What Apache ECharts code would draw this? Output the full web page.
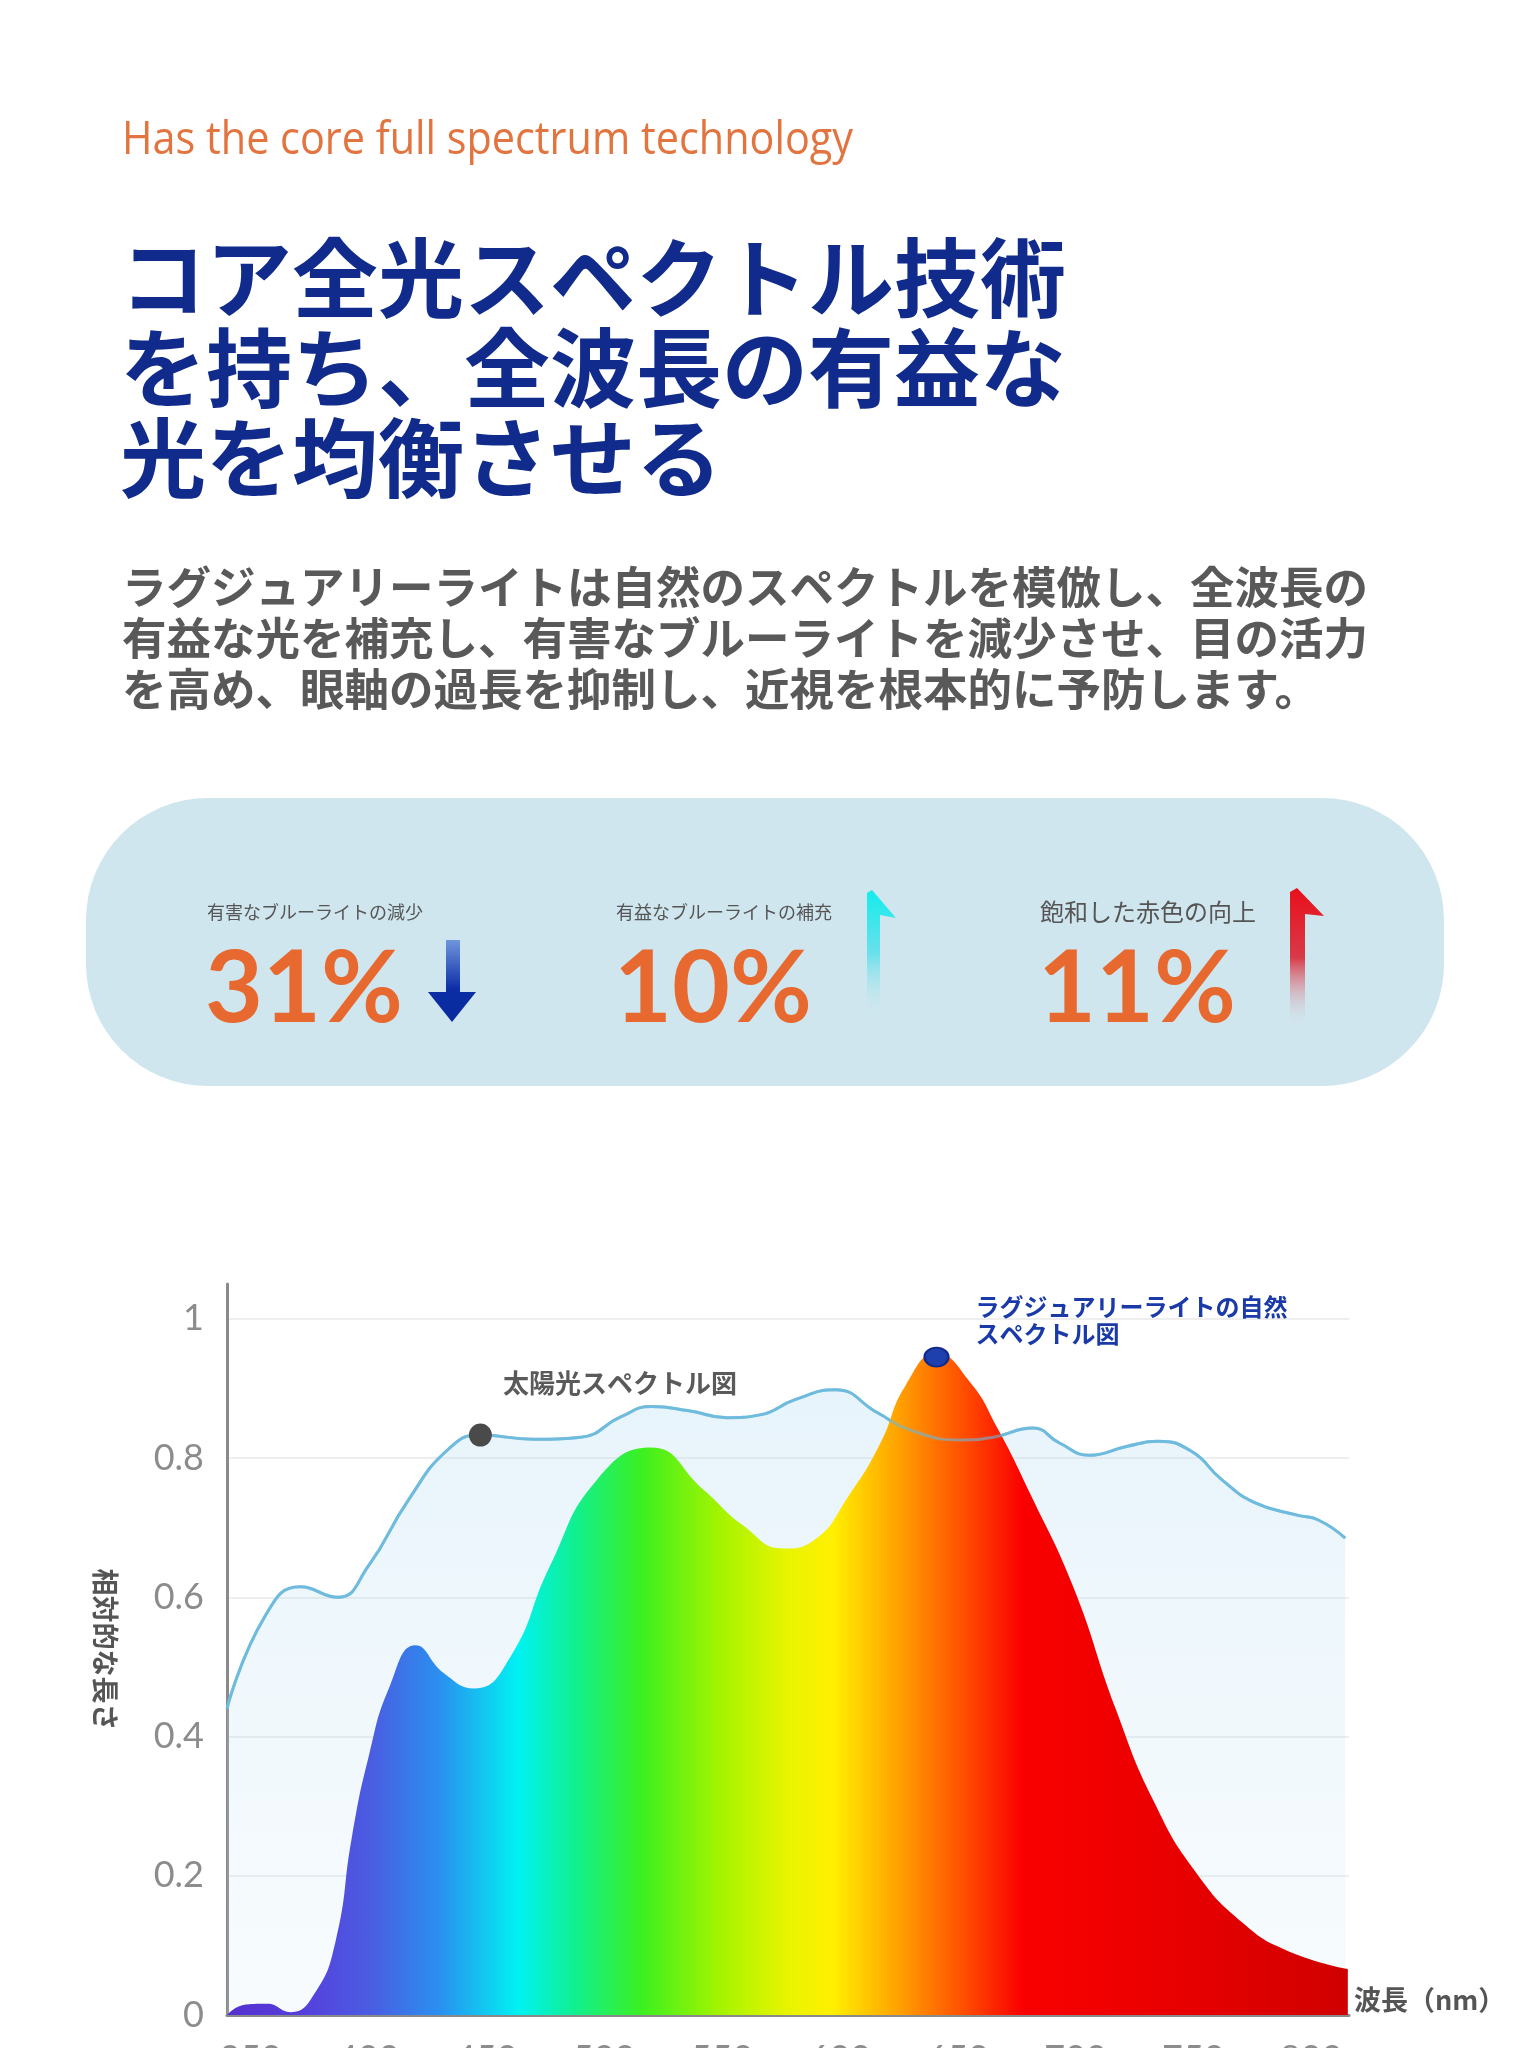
<!DOCTYPE html>
<html lang="ja">
<head>
<meta charset="utf-8">
<title>Full spectrum</title>
<style>
* { margin: 0; padding: 0; }
html, body { background: #ffffff; }
#chart-container { width: 1537px; height: 2048px; overflow: hidden; }
</style>
</head>
<body>
<div id="chart-container"></div>
<script src="https://cdn.jsdelivr.net/npm/echarts@6/dist/echarts.min.js"></script>
<script>
// texts
const subtitle = 'Has the core full spectrum technology';
const titleLines = ['コア全光スペクトル技術', 'を持ち、全波長の有益な', '光を均衡させる'];
const bodyLines = [
  'ラグジュアリーライトは自然のスペクトルを模倣し、全波長の',
  '有益な光を補充し、有害なブルーライトを減少させ、目の活力',
  'を高め、眼軸の過長を抑制し、近視を根本的に予防します。'
];
const statLabels = ['有害なブルーライトの減少', '有益なブルーライトの補充', '飽和した赤色の向上'];
const statValues = ['31%', '10%', '11%'];

// axes
const xTicks = [350, 400, 450, 500, 550, 600, 650, 700, 750, 800];
const yTicks = [0, 0.2, 0.4, 0.6, 0.8, 1];

// sunlight spectrum
const sunWavelengths = [340, 356, 371, 387, 400, 417, 434, 447.5, 470, 490, 507, 520, 536, 552, 566, 581,
  598, 616, 630, 651, 665, 682, 693, 706, 722, 735, 749, 762, 776, 794, 803, 814.4];
const sunValues = [0.44, 0.572, 0.615, 0.600, 0.645, 0.740, 0.813, 0.833, 0.827, 0.830, 0.859, 0.874, 0.868,
  0.858, 0.862, 0.884, 0.898, 0.865, 0.840, 0.826, 0.830, 0.843, 0.822, 0.804, 0.817, 0.824, 0.810, 0.769,
  0.736, 0.718, 0.711, 0.685];

// luxury light spectrum
const ledWavelengths = [340, 348, 357, 367, 377, 386, 393, 400, 409, 420, 432, 445, 460, 477, 497, 520, 542,
  559, 576, 589, 604, 617, 628, 641, 655, 667, 681, 699, 717, 733, 751, 771, 790, 815.5];
const ledValues = [0, 0.015, 0.016, 0.004, 0.030, 0.105, 0.256, 0.370, 0.472, 0.531, 0.491, 0.469, 0.513,
  0.645, 0.769, 0.815, 0.755, 0.703, 0.670, 0.682, 0.747, 0.820, 0.905, 0.950, 0.910, 0.842, 0.747, 0.615,
  0.440, 0.308, 0.205, 0.132, 0.092, 0.066];

const sunMarker = [447.5, 0.833];
const ledMarker = [641, 0.945];

const sunData = sunWavelengths.map((w, i) => [w, sunValues[i]]);
const ledData = ledWavelengths.map((w, i) => [w, ledValues[i]]);

const JP = '"Noto Sans CJK JP", "Noto Sans", sans-serif';

// squeeze subtitle to the width it has in the picture
const ctx = document.createElement('canvas').getContext('2d');
ctx.font = '46px "Open Sans"';
const subScale = 731 / ctx.measureText(subtitle).width;

const dom = document.getElementById('chart-container');
const myChart = echarts.init(dom, null, { renderer: 'canvas' });

const rainbow = new echarts.graphic.LinearGradient(0, 0, 1, 0, [
  { offset: 0, color: '#5530d0' },
  { offset: 0.07, color: '#5540dc' },
  { offset: 0.13, color: '#4a5ee2' },
  { offset: 0.19, color: '#2a90f0' },
  { offset: 0.26, color: '#00f2f2' },
  { offset: 0.31, color: '#10f090' },
  { offset: 0.37, color: '#3cf020' },
  { offset: 0.44, color: '#a4f400' },
  { offset: 0.50, color: '#e8f400' },
  { offset: 0.54, color: '#fff000' },
  { offset: 0.60, color: '#ffa000' },
  { offset: 0.66, color: '#ff4a00' },
  { offset: 0.71, color: '#fa0000' },
  { offset: 0.85, color: '#e80000' },
  { offset: 1, color: '#d00000' }
]);

const graphic = [];
graphic.push({
  type: 'text', x: 122, y: 141, scaleX: subScale,
  style: { text: subtitle, font: '46px "Open Sans"', fill: '#e2743f', verticalAlign: 'middle' }
});
titleLines.forEach((t, i) => {
  graphic.push({
    type: 'text', x: 120, y: 278 + i * 90,
    style: { text: t, font: 'bold 86px ' + JP, fill: '#112b8c', verticalAlign: 'middle' }
  });
});
bodyLines.forEach((t, i) => {
  graphic.push({
    type: 'text', x: 122, y: 587 + i * 51,
    style: { text: t, font: 'bold 44.5px ' + JP, fill: '#595959', verticalAlign: 'middle' }
  });
});
graphic.push({
  type: 'rect', shape: { x: 86, y: 798, width: 1358, height: 288, r: 122 },
  style: { fill: '#cfe6ee' }
});
const statX = [207, 616, 1040];
const statFont = [18, 18, 24];
statLabels.forEach((t, i) => {
  graphic.push({
    type: 'text', x: statX[i], y: 912,
    style: { text: t, font: statFont[i] + 'px ' + JP, fill: '#555555', verticalAlign: 'middle' }
  });
  graphic.push({
    type: 'text', x: statX[i] - 2, y: 990,
    style: { text: statValues[i], font: 'bold 100px Lato', fill: '#e8692f', verticalAlign: 'middle' }
  });
});
graphic.push({
  type: 'polygon',
  shape: { points: [[446, 940], [460, 940], [460, 992], [476, 992], [452, 1022], [428, 992], [446, 992]] },
  style: { fill: new echarts.graphic.LinearGradient(0, 0, 0, 1, [
    { offset: 0, color: '#7096dc' }, { offset: 0.6, color: '#0b2ea6' }, { offset: 1, color: '#0a2a9c' }
  ]) }
});
graphic.push({
  type: 'polygon',
  shape: { points: [[867, 1017], [867, 893], [872, 890], [896, 918], [880, 915], [880, 1017]] },
  style: { fill: new echarts.graphic.LinearGradient(0, 0, 0, 1, [
    { offset: 0, color: '#14ecec' }, { offset: 0.5, color: '#6ae0ea' }, { offset: 1, color: 'rgba(205,232,238,0)' }
  ]) }
});
graphic.push({
  type: 'polygon',
  shape: { points: [[1290, 1027], [1290, 892], [1297, 888], [1324, 916], [1305, 914], [1305, 1027]] },
  style: { fill: new echarts.graphic.LinearGradient(0, 0, 0, 1, [
    { offset: 0, color: '#e8101a' }, { offset: 0.5, color: '#d83a48' }, { offset: 1, color: 'rgba(215,225,232,0)' }
  ]) }
});

const option = {
  backgroundColor: '#ffffff',
  animation: false,
  graphic: graphic,
  grid: { left: 227, right: 188, top: 1284, bottom: 33, containLabel: false, outerBoundsMode: 'none' },
  xAxis: {
    type: 'value', min: 340, max: 816,
    name: '波長（nm）', nameLocation: 'end', nameGap: 5,
    nameTextStyle: { fontFamily: JP, fontSize: 27, fontWeight: 'bold', color: '#555555', verticalAlign: 'bottom', padding: [0, 0, 2, 0] },
    axisLine: { show: true, lineStyle: { color: '#8a8a8a', width: 3 } },
    axisTick: { show: false },
    splitLine: { show: false },
    axisLabel: { customValues: xTicks, color: '#8c8c8c', fontSize: 36, fontFamily: 'Lato', margin: 26 }
  },
  yAxis: {
    type: 'value', min: 0, max: 1.05, interval: 0.2,
    name: '相対的な長さ', nameLocation: 'middle', nameRotate: -90, nameGap: 108,
    nameTextStyle: { fontFamily: JP, fontSize: 27, fontWeight: 'bold', color: '#555555' },
    axisLine: { show: true, lineStyle: { color: '#8a8a8a', width: 3 } },
    axisTick: { show: false },
    splitLine: { show: true, showMaxLine: false, showMinLine: false, lineStyle: { color: '#eeeeee', width: 2 } },
    axisLabel: {
      customValues: yTicks, color: '#8c8c8c', fontSize: 36, fontFamily: 'Lato', margin: 23,
      formatter: v => String(Math.round(v * 10) / 10)
    }
  },
  series: [
    {
      name: '太陽光スペクトル図', type: 'line', data: sunData, smooth: 0.5, symbol: 'none', z: 1,
      lineStyle: { color: '#74c0e2', width: 3 },
      areaStyle: { color: new echarts.graphic.LinearGradient(0, 0, 0, 1, [
        { offset: 0, color: 'rgba(175,218,242,0.42)' }, { offset: 1, color: 'rgba(195,226,244,0.18)' }
      ]) }
    },
    {
      name: 'ラグジュアリーライトの自然スペクトル図', type: 'line', data: ledData, smooth: 0.5, symbol: 'none', z: 2,
      lineStyle: { width: 0 },
      areaStyle: { color: rainbow, opacity: 1 }
    },
    {
      type: 'line', data: sunData, smooth: 0.5, symbol: 'none', z: 3, silent: true,
      lineStyle: { color: '#6db8da', width: 3, opacity: 0.6 }
    },
    {
      type: 'scatter', z: 5, data: [sunMarker], symbolSize: 23,
      itemStyle: { color: '#4a4a4a', opacity: 1 },
      label: {
        show: true, formatter: '太陽光スペクトル図', position: [34, -40],
        align: 'left', verticalAlign: 'middle',
        fontFamily: JP, fontSize: 26, fontWeight: 'bold', color: '#5a5a5a'
      }
    },
    {
      type: 'scatter', z: 5, data: [ledMarker], symbolSize: [24, 19],
      itemStyle: { color: '#1e3fae', borderColor: '#10298a', borderWidth: 2, opacity: 1 },
      label: {
        show: true, formatter: 'ラグジュアリーライトの自然\nスペクトル図', position: [52, -26],
        align: 'left', verticalAlign: 'middle', lineHeight: 27,
        fontFamily: JP, fontSize: 24, fontWeight: 'bold', color: '#1a3aa8'
      }
    }
  ]
};

myChart.setOption(option);
window.addEventListener('resize', myChart.resize);
</script>
</body>
</html>
